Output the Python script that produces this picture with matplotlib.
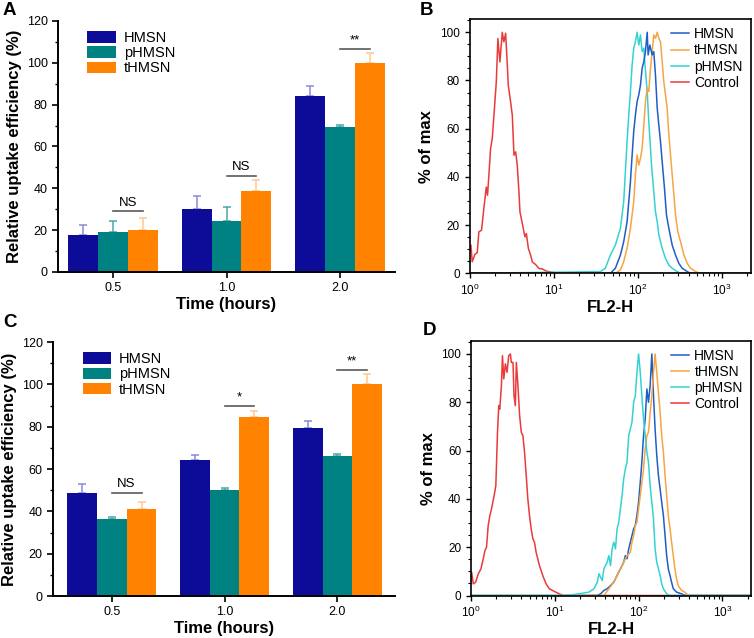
import numpy as np
import matplotlib
matplotlib.use('Agg')
import matplotlib.pyplot as plt
from matplotlib.ticker import MultipleLocator, LogLocator, NullFormatter

plt.rcParams['font.family'] = ['Liberation Sans', 'DejaVu Sans']
plt.rcParams['mathtext.fontset'] = 'custom'
plt.rcParams['mathtext.rm'] = 'Liberation Sans'
plt.rcParams['mathtext.it'] = 'Liberation Sans:italic'
plt.rcParams['mathtext.bf'] = 'Liberation Sans:bold'

# ---- bar panels (A, C) ----
times = ['0.5', '1.0', '2.0']
groups = ['HMSN', 'pHMSN', 'tHMSN']

a_mean = {'HMSN': [17.5, 30.2, 83.9], 'pHMSN': [19.1, 24.3, 69.2], 'tHMSN': [20.2, 38.5, 100.0]}
a_err = {'HMSN': [5.1, 5.9, 5.1], 'pHMSN': [5.4, 6.9, 0.9], 'tHMSN': [5.6, 5.4, 4.7]}
a_sig_y = [29.1, 45.9, 106.8]
a_sig_txt = ['NS', 'NS', '**']

c_mean = {'HMSN': [48.5, 64.1, 79.4], 'pHMSN': [36.2, 49.9, 66.3], 'tHMSN': [41.3, 84.4, 100.0]}
c_err = {'HMSN': [4.6, 2.4, 3.4], 'pHMSN': [1.0, 1.1, 0.8], 'tHMSN': [3.0, 3.0, 5.0]}
c_sig_y = [48.8, 89.8, 106.9]
c_sig_txt = ['NS', '*', '**']

bar_col = {'HMSN': '#0c0c98', 'pHMSN': '#008282', 'tHMSN': '#ff8200'}
err_col = {'HMSN': '#8a8ad8', 'pHMSN': '#4aa8a8', 'tHMSN': '#ffc890'}

# ---- flow histograms (B, D), x in log10(FL2-H), y in % of max ----
b_ctrl_lx = [0.0, 0.016, 0.032, 0.063, 0.092, 0.111, 0.143, 0.17, 0.199, 0.214, 0.23, 0.25, 0.27, 0.29,
             0.318, 0.337, 0.361, 0.389, 0.408, 0.429, 0.449, 0.46, 0.488, 0.508, 0.528, 0.548, 0.567,
             0.587, 0.599, 0.627, 0.658, 0.675, 0.699, 0.726, 0.746, 0.786, 0.825, 0.865, 0.905, 0.985,
             1.05, 3.4]
b_ctrl_y = [9.0, 11.8, 4.8, 7.8, 8.6, 17.2, 17.9, 26.8, 35.8, 32.4, 40.7, 51.7, 55.9, 65.5,
            79.4, 97.4, 87.7, 100.0, 96.0, 99.6, 86.4, 78.1, 71.1, 65.6, 49.0, 50.4, 44.8,
            33.8, 25.5, 20.6, 15.1, 16.5, 10.3, 7.5, 4.7, 3.6, 2.0, 1.8, 1.0, 0.4,
            0.0, 0.0]
b_p_lx = [0.0, 1.554, 1.613, 1.673, 1.732, 1.792, 1.831, 1.851, 1.871, 1.891, 1.911, 1.931, 1.95, 1.97,
          1.99, 2.01, 2.03, 2.05, 2.07, 2.09, 2.11, 2.129, 2.149, 2.161, 2.188, 2.208, 2.229, 2.248,
          2.288, 2.327, 2.367, 2.407, 2.467, 2.506, 3.4]
b_p_y = [0.0, 0.7, 2.1, 7.6, 11.7, 18.7, 29.7, 42.2, 54.6, 65.7, 75.4, 86.4, 93.4, 96.1,
         100.0, 94.7, 98.9, 92.0, 93.4, 83.7, 75.4, 62.9, 51.9, 44.9, 33.9, 25.6, 21.4, 15.9,
         10.4, 6.2, 3.4, 2.1, 0.7, 0.0, 0.0]
b_h_lx = [0.0, 1.673, 1.732, 1.792, 1.831, 1.871, 1.911, 1.931, 1.95, 1.97, 1.99, 2.01, 2.03, 2.05,
          2.07, 2.089, 2.11, 2.121, 2.141, 2.169, 2.188, 2.208, 2.229, 2.248, 2.268, 2.288, 2.315,
          2.339, 2.367, 2.407, 2.446, 2.486, 2.526, 2.586, 2.625, 3.4]
b_h_y = [0.0, 0.0, 2.1, 7.6, 13.1, 21.4, 38.0, 49.1, 58.8, 65.7, 71.2, 74.0, 78.1, 85.1,
         87.8, 92.0, 100.0, 90.6, 94.7, 90.6, 92.0, 82.4, 68.5, 61.5, 54.6, 46.3, 35.3,
         24.2, 18.7, 11.7, 7.6, 4.1, 2.1, 0.7, 0.0, 0.0]
b_t_lx = [0.0, 1.732, 1.792, 1.831, 1.871, 1.911, 1.95, 1.97, 1.99, 2.01, 2.03, 2.05, 2.07, 2.089,
          2.11, 2.129, 2.149, 2.169, 2.188, 2.208, 2.229, 2.248, 2.268, 2.288, 2.307, 2.327, 2.347,
          2.367, 2.387, 2.407, 2.427, 2.446, 2.474, 2.506, 2.546, 2.586, 2.625, 2.685, 2.744, 3.4]
b_t_y = [0.0, 0.0, 1.4, 4.8, 10.4, 18.7, 29.7, 40.8, 49.1, 44.9, 47.7, 51.9, 61.5, 71.2,
         76.8, 75.4, 85.1, 92.0, 98.9, 97.5, 100.0, 97.5, 96.1, 87.8, 79.5, 74.0, 68.5,
         57.4, 49.1, 40.8, 32.5, 24.2, 17.3, 13.1, 7.6, 4.1, 2.1, 0.7, 0.0, 0.0]

d_ctrl_lx = [0.0, 0.008, 0.027, 0.055, 0.087, 0.118, 0.146, 0.166, 0.185, 0.205, 0.225, 0.245, 0.276,
             0.296, 0.316, 0.331, 0.343, 0.363, 0.375, 0.391, 0.41, 0.43, 0.45, 0.47, 0.481, 0.501,
             0.513, 0.529, 0.541, 0.56, 0.58, 0.6, 0.619, 0.639, 0.659, 0.678, 0.698, 0.718, 0.738,
             0.757, 0.777, 0.817, 0.856, 0.896, 0.935, 0.994, 1.053, 1.1, 3.4]
d_ctrl_y = [6.0, 9.6, 4.8, 5.5, 9.0, 11.0, 15.2, 18.6, 20.0, 29.0, 33.1, 35.9, 41.4,
            45.5, 67.6, 78.6, 77.2, 86.9, 99.3, 89.7, 95.9, 92.4, 99.3, 100.0, 96.5, 96.5,
            82.7, 78.6, 96.5, 86.9, 74.5, 67.6, 66.2, 59.3, 49.6, 40.0, 33.1, 27.6, 23.5,
            22.1, 17.9, 12.4, 8.3, 4.8, 2.8, 1.7, 0.7, 0.0, 0.0]
d_p_lx = [0.0, 1.13, 1.29, 1.408, 1.467, 1.507, 1.527, 1.566, 1.586, 1.625, 1.645, 1.665, 1.684, 1.704,
          1.724, 1.743, 1.763, 1.783, 1.803, 1.822, 1.842, 1.862, 1.882, 1.902, 1.921, 1.941,
          1.961, 1.98, 2.0, 2.02, 2.039, 2.059, 2.079, 2.099, 2.118, 2.138, 2.158, 2.178, 2.197,
          2.217, 2.237, 2.257, 2.276, 2.296, 2.335, 2.37, 3.4]
d_p_y = [0.0, 0.0, 0.7, 1.4, 2.8, 5.5, 9.0, 6.2, 11.0, 13.8, 16.5, 12.4, 19.3, 22.1,
         19.3, 27.6, 30.3, 35.9, 41.4, 48.3, 52.4, 55.2, 66.2, 69.0, 71.7, 80.0,
         82.7, 92.4, 100.0, 92.4, 82.7, 73.1, 66.2, 59.3, 55.2, 45.5, 38.6, 31.7, 19.3,
         13.8, 11.0, 8.3, 4.8, 2.8, 0.7, 0.0, 0.0]
d_h_lx = [0.0, 1.5, 1.547, 1.586, 1.625, 1.665, 1.704, 1.743, 1.783, 1.803, 1.822, 1.842, 1.862, 1.882,
          1.902, 1.921, 1.941, 1.961, 1.98, 2.0, 2.02, 2.039, 2.059, 2.079, 2.099, 2.118, 2.138,
          2.158, 2.178, 2.197, 2.217, 2.237, 2.257, 2.276, 2.296, 2.316, 2.335, 2.355, 2.375,
          2.394, 2.414, 2.453, 2.513, 2.56, 3.4]
d_h_y = [0.0, 0.0, 0.7, 2.1, 2.8, 4.1, 5.5, 8.3, 11.0, 12.4, 13.8, 16.5, 15.2, 19.3,
         22.1, 24.8, 27.6, 29.0, 33.1, 38.6, 46.9, 55.2, 66.2, 73.1, 85.5, 80.0, 86.9,
         100.0, 82.7, 69.0, 57.9, 49.6, 44.1, 38.6, 33.1, 24.8, 16.5, 11.0, 8.3,
         5.5, 2.8, 1.4, 0.7, 0.0, 0.0]
d_t_lx = [0.0, 1.586, 1.645, 1.704, 1.743, 1.783, 1.822, 1.862, 1.902, 1.921, 1.941, 1.961, 1.98, 2.0,
          2.02, 2.039, 2.059, 2.079, 2.099, 2.118, 2.138, 2.158, 2.178, 2.197, 2.217, 2.237, 2.257,
          2.276, 2.296, 2.316, 2.335, 2.355, 2.375, 2.394, 2.414, 2.434, 2.453, 2.473, 2.513,
          2.552, 2.591, 3.4]
d_t_y = [0.0, 0.0, 2.8, 5.5, 8.3, 11.0, 13.8, 16.5, 17.9, 22.1, 24.8, 29.0, 30.3, 35.9,
         41.4, 46.9, 52.4, 60.7, 66.2, 67.6, 75.8, 82.7, 92.4, 100.0, 92.4, 84.1, 75.8,
         66.2, 59.3, 49.6, 41.4, 33.1, 27.6, 22.1, 16.5, 11.0, 6.9, 4.1, 2.1,
         1.4, 0.0, 0.0]

line_col = {'HMSN': '#1f5fc4', 'tHMSN': '#f6a545', 'pHMSN': '#35d2d2', 'Control': '#ea3a3a'}


def bar_panel(ax, means, errs, sig_y, sig_txt, xlim):
    x = np.arange(len(times))
    w = 0.264
    for i, g in enumerate(groups):
        pos = x + (i - 1) * w
        ax.bar(pos, means[g], width=w, color=bar_col[g], label=g, zorder=2)
        ax.errorbar(pos, means[g], yerr=[np.zeros(len(times)), errs[g]], fmt='none',
                    ecolor=err_col[g], elinewidth=1.1, capsize=3.2, capthick=1.1, zorder=1)
    for xi, yi, t in zip(x, sig_y, sig_txt):
        ax.plot([xi, xi + w], [yi, yi], color='#5a5a5a', lw=1.2)
        ax.text(xi + w / 2, yi + 1.2, t, ha='center', va='bottom', fontsize=9.5)
    ax.set_xlim(*xlim)
    ax.set_ylim(0, 120)
    ax.set_xticks(x)
    ax.set_xticklabels(times)
    ax.yaxis.set_major_locator(MultipleLocator(20))
    ax.yaxis.set_minor_locator(MultipleLocator(10))
    ax.tick_params(axis='both', labelsize=9, width=1.2, length=4)
    ax.tick_params(axis='y', which='minor', width=1.0, length=2.5)
    for s in ['top', 'right']:
        ax.spines[s].set_visible(False)
    for s in ['left', 'bottom']:
        ax.spines[s].set_linewidth(1.4)
    ax.set_ylabel('Relative uptake efficiency (%)', fontsize=12, fontweight='bold', labelpad=3)
    ax.set_xlabel('Time (hours)', fontsize=12, fontweight='bold', labelpad=2)
    ax.legend(loc='upper left', bbox_to_anchor=(0.07, 0.983), frameon=False, fontsize=10.5,
              handlelength=1.95, handleheight=0.85, labelspacing=0.08, handletextpad=0.55,
              borderaxespad=0.0)


def flow_panel(ax, curves, order):
    lines = {}
    for name in order:
        lx, yv = curves[name]
        ln, = ax.plot(np.power(10.0, lx), yv, color=line_col[name], lw=1.1, label=name)
        lines[name] = ln
    ax.set_xscale('log')
    ax.set_xlim(1, 2200)
    ax.set_ylim(0, 105.5)
    ax.yaxis.set_major_locator(MultipleLocator(20))
    ax.yaxis.set_minor_locator(MultipleLocator(5))
    ax.xaxis.set_major_locator(LogLocator(base=10, numticks=10))
    ax.xaxis.set_minor_locator(LogLocator(base=10, subs=np.arange(2, 10), numticks=10))
    ax.xaxis.set_minor_formatter(NullFormatter())
    ax.tick_params(axis='both', labelsize=8.5, width=1.0, length=3.5)
    ax.tick_params(which='minor', width=0.8, length=2)
    for s in ax.spines.values():
        s.set_linewidth(1.2)
    ax.set_ylabel('% of max', fontsize=12, fontweight='bold', labelpad=4)
    ax.set_xlabel('FL2-H', fontsize=12, fontweight='bold', labelpad=1)
    names = ['HMSN', 'tHMSN', 'pHMSN', 'Control']
    ax.legend([lines[n] for n in names], names, loc='upper right', bbox_to_anchor=(1.0, 1.0),
              frameon=False, fontsize=10, handlelength=1.3, handletextpad=0.35,
              labelspacing=0.15, borderaxespad=0.2)


fig = plt.figure(figsize=(7.54, 6.38), dpi=100)

ax_a = fig.add_axes([0.0769, 0.5737, 0.447, 0.3934])
bar_panel(ax_a, a_mean, a_err, a_sig_y, a_sig_txt, (-0.485, 2.485))

ax_c = fig.add_axes([0.0703, 0.0658, 0.4536, 0.398])
bar_panel(ax_c, c_mean, c_err, c_sig_y, c_sig_txt, (-0.52, 2.51))

ax_b = fig.add_axes([0.6227, 0.5716, 0.3733, 0.3986])
flow_panel(ax_b, {'Control': (b_ctrl_lx, b_ctrl_y), 'pHMSN': (b_p_lx, b_p_y),
                  'tHMSN': (b_t_lx, b_t_y), 'HMSN': (b_h_lx, b_h_y)},
           ['Control', 'pHMSN', 'tHMSN', 'HMSN'])

ax_d = fig.add_axes([0.6247, 0.0666, 0.3714, 0.3994])
flow_panel(ax_d, {'Control': (d_ctrl_lx, d_ctrl_y), 'pHMSN': (d_p_lx, d_p_y),
                  'tHMSN': (d_t_lx, d_t_y), 'HMSN': (d_h_lx, d_h_y)},
           ['Control', 'HMSN', 'tHMSN', 'pHMSN'])

for lab, (px, py) in {'A': (3, 2), 'B': (420, 2), 'C': (3, 314), 'D': (423, 322)}.items():
    fig.text(px / 754, 1 - py / 638, lab, fontsize=13.5, fontweight='bold', ha='left', va='top')

fig.savefig('out.png', dpi=100)
